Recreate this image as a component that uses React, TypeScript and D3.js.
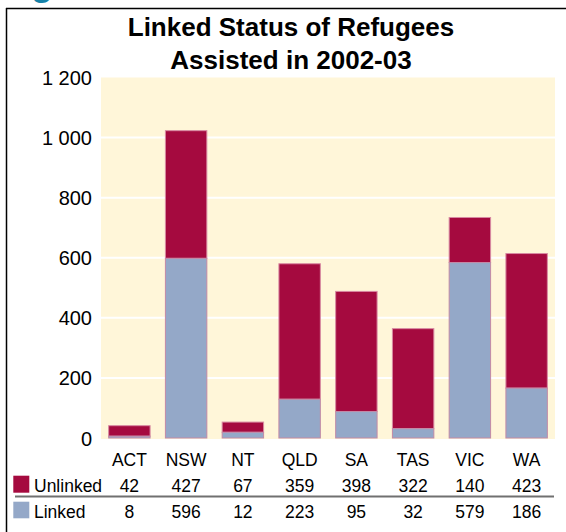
import React from "react";
import * as d3 from "d3";

const categories = ["ACT", "NSW", "NT", "QLD", "SA", "TAS", "VIC", "WA"];
// values printed in the table
const unlinkedTable = [42, 427, 67, 359, 398, 322, 140, 423];
const linkedTable = [8, 596, 12, 223, 95, 32, 579, 186];
// bar heights as drawn in the picture
const linkedBar = [6, 598, 19, 129, 88, 31, 584, 166];
const unlinkedBar = [35, 425, 34, 451, 400, 333, 150, 448];
const yTicks = [0, 200, 400, 600, 800, 1000, 1200];

const W = 566;
const H = 532;
const UNLINKED = "#a50a3f";
const LINKED = "#94a8c8";
const BG = "#fff6d9";
const FONT = "'Liberation Sans', Arial, sans-serif";

const locale = d3.formatLocale({ thousands: " ", grouping: [3], decimal: ".", currency: ["", ""] });
const fmt = locale.format(",");

export default function App() {
  const x = d3.scaleBand<string>().domain(categories).range([101, 555]).paddingInner(0.27).paddingOuter(0.135);
  const y = d3.scaleLinear().domain([0, 1200]).range([438, 77.5]);
  const bw = x.bandwidth();

  return (
    <svg width={W} height={H} style={{ position: "absolute", left: 0, top: 0, background: "#fff" }} fontFamily={FONT}>
      <text x={31} y={-5} fontSize={36} fontWeight="bold" fill="#1582a8">g</text>
      <line x1={6.5} y1={8} x2={6.5} y2={H} stroke="#000" strokeWidth={1.5} />
      <line x1={6} y1={8.5} x2={W} y2={8.5} stroke="#000" strokeWidth={1.5} />

      <text x={291} y={36} textAnchor="middle" fontSize={26} fontWeight="bold" fill="#000">Linked Status of Refugees</text>
      <text x={291} y={69} textAnchor="middle" fontSize={26} fontWeight="bold" fill="#000">Assisted in 2002-03</text>

      <rect x={101} y={y(1200)} width={454} height={439 - y(1200)} fill={BG} />
      {yTicks.filter((t) => t > 0 && t < 1200).map((t) => (
        <line key={t} x1={101} x2={555} y1={y(t)} y2={y(t)} stroke="#fff" strokeWidth={2} />
      ))}
      {yTicks.map((t) => (
        <text key={t} x={92} y={y(t) + 7.5} textAnchor="end" fontSize={20} fill="#000">{fmt(t)}</text>
      ))}

      {categories.map((c, i) => {
        const x0 = x(c)!;
        const l = linkedBar[i];
        const u = unlinkedBar[i];
        return (
          <g key={c}>
            <rect x={x0} y={y(l + u)} width={bw} height={y(l) - y(l + u)} fill={UNLINKED} stroke="#d88aa2" strokeWidth={1} />
            <rect x={x0} y={y(l)} width={bw} height={y(0) - y(l)} fill={LINKED} stroke="#c28aa6" strokeWidth={1} />
          </g>
        );
      })}

      {categories.map((c, i) => {
        const cx = x(c)! + bw / 2;
        return (
          <g key={c} fontSize={17.5} fill="#000" textAnchor="middle">
            <text x={cx} y={465.5}>{c}</text>
            <text x={cx} y={491.5}>{unlinkedTable[i]}</text>
            <text x={cx} y={517.5}>{linkedTable[i]}</text>
          </g>
        );
      })}

      <rect x={13.3} y={475.7} width={16} height={17} fill={UNLINKED} />
      <text x={34} y={491.5} fontSize={17.5} fill="#000">Unlinked</text>
      <line x1={15} x2={554} y1={496.5} y2={496.5} stroke="#707070" strokeWidth={2} />
      <rect x={13.3} y={501.7} width={16} height={16.6} fill={LINKED} />
      <text x={34} y={517.5} fontSize={17.5} fill="#000">Linked</text>
    </svg>
  );
}
